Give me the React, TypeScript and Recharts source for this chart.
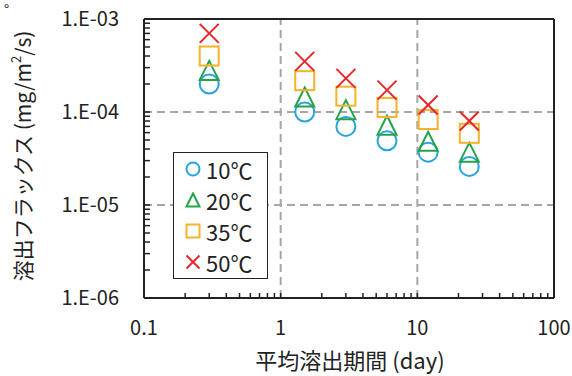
import {
  Legend,
  ReferenceLine,
  Scatter,
  ScatterChart,
  XAxis,
  YAxis,
} from "recharts";

const FONT = '"Noto Sans CJK JP", "Noto Sans", sans-serif';

// mean leaching period (day)
const DAYS = [0.3, 1.5, 3, 6, 12, 24];

// leaching flux (mg/m2/s) per temperature
const FLUX_10C = [2.0e-4, 1.0e-4, 7.0e-5, 4.9e-5, 3.7e-5, 2.6e-5];
const FLUX_20C = [2.8e-4, 1.45e-4, 1.06e-4, 7.2e-5, 4.85e-5, 3.7e-5];
const FLUX_35C = [4.0e-4, 2.17e-4, 1.48e-4, 1.12e-4, 8.3e-5, 5.9e-5];
const FLUX_50C = [7.0e-4, 3.5e-4, 2.3e-4, 1.72e-4, 1.19e-4, 8.0e-5];

const SERIES_NAMES = ["10℃", "20℃", "35℃", "50℃"];
const SERIES_COLORS = ["#2AA4DE", "#25A349", "#F5B32A", "#E8262B"];
const SERIES_SHAPES = ["circle", "triangle", "square", "cross"] as const;
const SERIES_VALUES = [FLUX_10C, FLUX_20C, FLUX_35C, FLUX_50C];

const X_TICKS = [
  0.1, 0.2, 0.3, 0.4, 0.5, 0.6, 0.7, 0.8, 0.9,
  1, 2, 3, 4, 5, 6, 7, 8, 9,
  10, 20, 30, 40, 50, 60, 70, 80, 90, 100,
];
const X_MAJOR = [0.1, 1, 10, 100];
const X_LABELS = ["0.1", "1", "10", "100"];

const Y_TICKS = [
  1e-6, 2e-6, 3e-6, 4e-6, 5e-6, 6e-6, 7e-6, 8e-6, 9e-6,
  1e-5, 2e-5, 3e-5, 4e-5, 5e-5, 6e-5, 7e-5, 8e-5, 9e-5,
  1e-4, 2e-4, 3e-4, 4e-4, 5e-4, 6e-4, 7e-4, 8e-4, 9e-4, 1e-3,
];
const Y_MAJOR = [1e-6, 1e-5, 1e-4, 1e-3];
const Y_LABELS = ["1.E-06", "1.E-05", "1.E-04", "1.E-03"];

type ShapeKind = (typeof SERIES_SHAPES)[number];

function Marker({ kind, cx, cy, color, size, sw }: {
  kind: ShapeKind; cx: number; cy: number; color: string; size: number; sw: number;
}) {
  const h = size / 2;
  const common = { fill: "none", stroke: color, strokeWidth: sw };
  if (kind === "circle") return <circle cx={cx} cy={cy} r={h} {...common} />;
  if (kind === "square")
    return <rect x={cx - h} y={cy - h} width={size} height={size} {...common} />;
  if (kind === "triangle")
    return (
      <polygon
        points={`${cx},${cy - h} ${cx + h},${cy + h} ${cx - h},${cy + h}`}
        strokeLinejoin="miter"
        {...common}
      />
    );
  return (
    <g {...common}>
      <line x1={cx - h} y1={cy - h} x2={cx + h} y2={cy + h} />
      <line x1={cx - h} y1={cy + h} x2={cx + h} y2={cy - h} />
    </g>
  );
}

function YTitle() {
  return (
    <g fontFamily={FONT} fill="#222">
      <text x={4} y={15} fontSize={14}>°</text>
      <text
        x={22}
        y={156}
        transform="rotate(-90 22 156)"
        textAnchor="middle"
        dominantBaseline="central"
        fontSize={21}
      >
        溶出フラックス (mg/m<tspan dy={-7} fontSize={13}>2</tspan>
        <tspan dy={7}>/s)</tspan>
      </text>
    </g>
  );
}

function XTitle() {
  return (
    <text
      x={350}
      y={359}
      textAnchor="middle"
      dominantBaseline="central"
      fontFamily={FONT}
      fontSize={22}
      fill="#222"
    >
      平均溶出期間 (day)
    </text>
  );
}

function LegendBox() {
  return (
    <div
      style={{
        boxSizing: "border-box",
        width: 95,
        height: 127,
        border: "1.5px solid #222",
        background: "#fff",
        fontFamily: FONT,
        fontSize: 22,
        color: "#222",
      }}
    >
      {SERIES_NAMES.map((name, i) => (
        <div key={name} style={{ height: 31.2, display: "flex", alignItems: "center" }}>
          <svg width={16} height={16} style={{ marginLeft: 11, marginRight: 5 }}>
            <Marker kind={SERIES_SHAPES[i]} cx={8} cy={8} color={SERIES_COLORS[i]} size={13} sw={2} />
          </svg>
          <span style={{ lineHeight: 1 }}>{name}</span>
        </div>
      ))}
    </div>
  );
}

export default function App() {
  const gridStyle = { stroke: "#A6A6A6", strokeWidth: 2, strokeDasharray: "8 5" };
  return (
    <div style={{ position: "absolute", left: 0, top: 0, background: "#fff" }}>
      <ScatterChart
        width={572}
        height={376}
        margin={{ top: 19, right: 18, bottom: 18, left: 24 }}
      >
        <XAxis
          type="number"
          dataKey="x"
          scale="log"
          domain={[0.1, 100]}
          allowDataOverflow
          ticks={X_TICKS}
          interval={0}
          height={60}
          tickSize={-5}
          tickMargin={28}
          tickFormatter={(v: number) => {
            const i = X_MAJOR.indexOf(v);
            return i >= 0 ? X_LABELS[i] : "";
          }}
          tick={{ fill: "#222", fontSize: 20, fontFamily: FONT }}
          tickLine={{ stroke: "#222", strokeWidth: 1.5 }}
          axisLine={{ stroke: "#222", strokeWidth: 2 }}
          label={<XTitle />}
        />
        <YAxis
          type="number"
          dataKey="y"
          scale="log"
          domain={[1e-6, 1e-3]}
          allowDataOverflow
          ticks={Y_TICKS}
          interval={0}
          width={120}
          tickSize={-6}
          tickMargin={31}
          tickFormatter={(v: number) => {
            const i = Y_MAJOR.indexOf(v);
            return i >= 0 ? Y_LABELS[i] : "";
          }}
          tick={{ fill: "#222", fontSize: 20, fontFamily: FONT }}
          tickLine={{ stroke: "#222", strokeWidth: 1.5 }}
          axisLine={{ stroke: "#222", strokeWidth: 2 }}
          label={<YTitle />}
        />
        <ReferenceLine x={1} {...gridStyle} />
        <ReferenceLine x={10} {...gridStyle} />
        <ReferenceLine y={1e-4} {...gridStyle} />
        <ReferenceLine y={1e-5} {...gridStyle} />
        <ReferenceLine x={100} stroke="#222" strokeWidth={2} />
        <ReferenceLine y={1e-3} stroke="#222" strokeWidth={2} />
        {SERIES_NAMES.map((name, i) => (
          <Scatter
            key={name}
            name={name}
            data={DAYS.map((d, j) => ({ x: d, y: SERIES_VALUES[i][j] }))}
            isAnimationActive={false}
            shape={(p: any) => (
              <Marker kind={SERIES_SHAPES[i]} cx={p.cx} cy={p.cy} color={SERIES_COLORS[i]} size={19} sw={2} />
            )}
          />
        ))}
        <Legend
          layout="vertical"
          align="center"
          verticalAlign="middle"
          wrapperStyle={{ left: 173, top: 152, width: 95 }}
          content={() => <LegendBox />}
        />
      </ScatterChart>
    </div>
  );
}
